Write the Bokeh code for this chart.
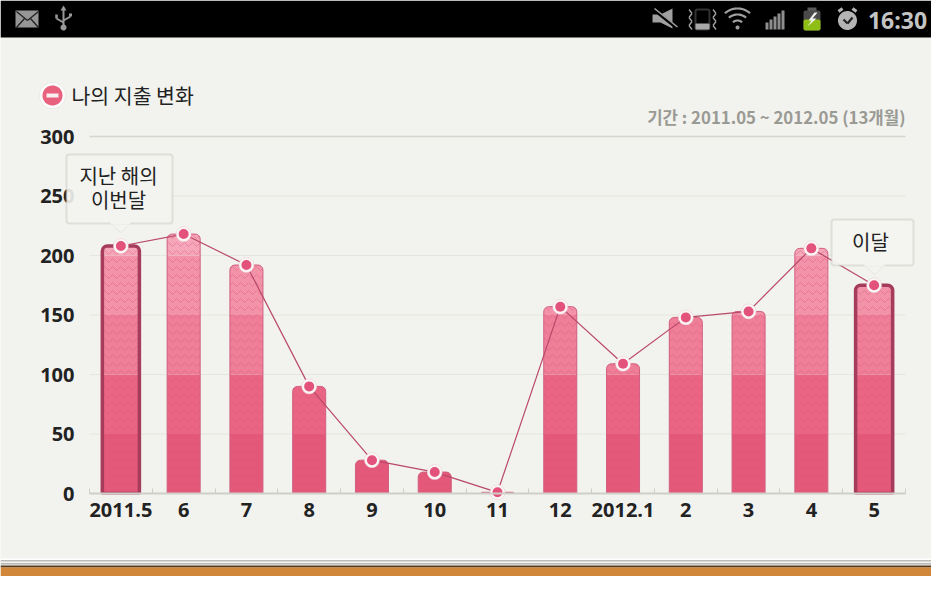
import numpy as np
from bokeh.plotting import figure
from bokeh.models import (Range1d, LinearAxis, FixedTicker, BoxAnnotation, PolyAnnotation,
                          Label, ColumnDataSource)
from bokeh.embed import file_html
from bokeh.resources import INLINE

# ---- data ----
months = ["2011.5", "6", "7", "8", "9", "10", "11", "12", "2012.1", "2", "3", "4", "5"]
spending = [208, 218, 192, 90, 28, 18, 1, 157, 109, 148, 153, 206, 175]
highlighted = [0, 12]
y_ticks = [0, 50, 100, 150, 200, 250, 300]
title_text = "나의 지출 변화"
period_text = "기간 : 2011.05 ~ 2012.05 (13개월)"
clock_text = "16:30"
band_colors = ["#e4587a", "#ea6583", "#ef7f98", "#f293a9", "#f5a6b8"]

KR = "Noto Sans CJK KR"
PAPER = "#f2f2ee"
W, H = 931, 576
PX_X = (905 - 89) / 13.0   # pixels per month
PX_Y = (493 - 136) / 300.0 # pixels per unit

p = figure(width=W, height=H, output_backend="svg", toolbar_location=None,
           x_range=Range1d(-89 / PX_X, (W - 89) / PX_X),
           y_range=Range1d(-(H - 493) / PX_Y, 493 / PX_Y),
           x_axis_type=None, y_axis_type=None,
           min_border_left=0, min_border_right=0, min_border_top=0, min_border_bottom=0)
p.outline_line_color = None
p.background_fill_color = PAPER
p.border_fill_color = PAPER


def box(x0, y0, x1, y1, color, alpha=1.0, line=None, lw=1, radius=0):
    p.add_layout(BoxAnnotation(left=x0, right=x1, top=y0, bottom=y1,
                               left_units="canvas", right_units="canvas", top_units="canvas",
                               bottom_units="canvas", fill_color=color, fill_alpha=alpha,
                               line_color=line, line_width=lw, border_radius=radius,
                               level="annotation", editable=False))


def poly(xs, ys, color, alpha=1.0, line=None, lw=1):
    p.add_layout(PolyAnnotation(xs=list(xs), ys=list(ys),
                                xs_units="canvas", ys_units="canvas",
                                fill_color=color, fill_alpha=alpha,
                                line_color=line, line_width=lw, level="annotation"))


def seg(x0, y0, x1, y1, color, w=2.0):
    dx, dy = x1 - x0, y1 - y0
    n = max((dx * dx + dy * dy) ** 0.5, 1e-6)
    ox, oy = -dy / n * w / 2, dx / n * w / 2
    poly([x0 + ox, x1 + ox, x1 - ox, x0 - ox], [y0 + oy, y1 + oy, y1 - oy, y0 - oy], color)


def circle(cx, cy, r, color, line=None, lw=1, alpha=1.0):
    t = np.linspace(0, 2 * np.pi, 40)[:-1]
    poly(cx + r * np.cos(t), cy + r * np.sin(t), color, alpha, line, lw)


def arc(cx, cy, r, w, color, half=0.72):
    t = np.linspace(-np.pi / 2 - half, -np.pi / 2 + half, 16)
    xs = list(cx + (r + w / 2) * np.cos(t)) + list(cx + (r - w / 2) * np.cos(t[::-1]))
    ys = list(cy + (r + w / 2) * np.sin(t)) + list(cy + (r - w / 2) * np.sin(t[::-1]))
    poly(xs, ys, color)


def text(x, y, s, size, color="#222222", align="left", bold=False, font=KR):
    p.add_layout(Label(x=x, y=y, x_units="canvas", y_units="canvas", text=s,
                       text_font=font, text_font_size=f"{size}px", text_color=color,
                       text_align=align, text_baseline="middle",
                       text_font_style="bold" if bold else "normal"))


# ---- axes and grid ----
centers = [i + 0.5 for i in range(len(months))]
n_cat = len(months)
p.segment(x0=[0] * 6, x1=[n_cat] * 6, y0=y_ticks[:-1], y1=y_ticks[:-1],
          line_color="#e6e6e0", line_width=1, level="underlay")
p.segment(x0=[0], x1=[n_cat], y0=y_ticks[-1:], y1=y_ticks[-1:],
          line_color="#d6d6d0", line_width=1.5, level="underlay")
yax = LinearAxis(ticker=FixedTicker(ticks=y_ticks), fixed_location=0, bounds=(0, 300),
                 axis_line_color=None, major_tick_line_color=None, minor_tick_line_color=None,
                 major_label_standoff=9, major_label_text_font="Open Sans",
                 major_label_text_font_style="bold", major_label_text_font_size="20px",
                 major_label_text_color="#222222")
p.add_layout(yax, "left")
xax = LinearAxis(ticker=FixedTicker(ticks=centers, minor_ticks=list(range(n_cat + 1))),
                 fixed_location=0, bounds=(0, n_cat), axis_line_color="#cfcfc9", axis_line_width=2,
                 major_tick_line_color=None, minor_tick_line_color="#cfcfc9",
                 minor_tick_in=5, minor_tick_out=0, major_tick_in=0, major_tick_out=0,
                 major_label_standoff=9, major_label_text_font="Open Sans",
                 major_label_text_font_style="bold", major_label_text_font_size="20px",
                 major_label_text_color="#222222",
                 major_label_overrides={c: m for c, m in zip(centers, months)})
p.add_layout(xax, "below")

# ---- bars, one band at a time ----
vals = np.array(spending, dtype=float)
for k, color in enumerate(band_colors):
    lo = 50 * k
    hi = 50 * (k + 1) if k < len(band_colors) - 1 else 1000
    full = [i for i in range(len(vals)) if vals[i] > hi]
    top = [i for i in range(len(vals)) if lo < vals[i] <= hi]
    common = dict(fill_color=color, line_color=None, hatch_pattern="horizontal_wave",
                  hatch_color="#d94f72", hatch_alpha=0.4, hatch_scale=8, hatch_weight=1)
    for sel, radius in ((full, 0), (top, (5, 5, 0, 0))):
        if not sel:
            continue
        xs = [centers[i] for i in sel]
        ws = [0.637 if i in highlighted else 0.526 for i in sel]
        p.vbar(x=xs, width=ws, bottom=lo, top=[min(vals[i], hi) for i in sel],
               border_radius=radius, **common)

rest = [i for i in range(len(vals)) if i not in highlighted]
p.vbar(x=[centers[i] for i in rest], width=0.526, bottom=0, top=[vals[i] for i in rest],
       fill_color=None, line_color="#d0607f", line_width=1, border_radius=(5, 5, 0, 0))
p.vbar(x=[centers[i] for i in highlighted], width=0.59, bottom=0,
       top=[vals[i] for i in highlighted],
       fill_color=None, line_color="#a63c5b", line_width=3.5, border_radius=(5, 5, 0, 0))
# the outline's foot stops at the axis
p.vbar(x=[centers[i] for i in highlighted], width=0.66, bottom=-3, top=-0.8,
       fill_color=PAPER, line_color=None)

# ---- line and points ----
src = ColumnDataSource(dict(x=centers, y=spending))
p.line("x", "y", source=src, line_color="#b9496a", line_width=1.2)
p.scatter("x", "y", source=src, size=15, marker="circle", fill_color="#fbf6f6",
          line_color="#e9c9d0", line_width=0.5)
p.scatter("x", "y", source=src, size=10, marker="circle", fill_color="#e2527a", line_color=None)

# ---- status bar ----
box(0, 0, 931, 37, "#000000")
box(15, 10, 38, 27, "#969696")
seg(16, 11, 27, 20, "#222222", 1.3); seg(38, 11, 27, 20, "#222222", 1.3)
seg(16, 27, 24, 18, "#222222", 1.3); seg(38, 27, 30, 18, "#222222", 1.3)
seg(63, 7, 63, 26, "#999999", 2)
circle(63, 27, 3, "#999999")
seg(56, 14, 56, 18, "#999999", 2.5); seg(56, 18, 63, 22, "#999999", 2)
seg(70, 13, 70, 16, "#999999", 3); seg(70, 16, 63, 20, "#999999", 2)
poly([60, 66, 63], [10, 10, 5], "#999999")
poly([652, 660, 672, 672, 660, 652], [14, 14, 8, 28, 22, 22], "#a0a0a0")
seg(652, 8, 677, 28, "#000000", 3.5); seg(654, 8, 677, 26.5, "#a0a0a0", 1.6)
box(695, 9, 709, 29, "#000000", line="#a8a8a8", lw=2, radius=2)
box(695, 23, 709, 29, "#a8a8a8", radius=1)
for zx in (690, 714):
    zy = [9, 13, 17, 21, 25, 29]
    for j in range(5):
        seg(zx + (1.5 if j % 2 else -1.5), zy[j], zx + (-1.5 if j % 2 else 1.5), zy[j + 1], "#a8a8a8", 1.3)
circle(737, 27, 2, "#a0a0a0")
for r in (7, 13, 19):
    arc(737, 27, r, 2.2, "#a0a0a0")
for j, bx in enumerate(range(765, 785, 4)):
    box(bx, 22 - 3 * j, bx + 3, 29, "#8e8e8e")
box(807, 7, 816, 11, "#5a5a5a")
box(803, 10, 820, 30, "#4a4a4a", radius=2)
box(803, 19, 820, 30, "#8fbf16", radius=2)
poly([814, 808, 811, 807, 816, 812, 817], [12, 20, 20, 26, 18, 18, 12], "#f2f2f2")
circle(847, 20, 9.5, "#b4b4b4")
seg(843, 19, 847, 23, "#222222", 2.2); seg(847, 23, 852, 17, "#222222", 2.2)
seg(838, 11, 842, 8, "#b4b4b4", 3); seg(852, 8, 856, 11, "#b4b4b4", 3)
text(897, 19, clock_text, 23, "#c4c4c4", "center", True, "Open Sans")

# ---- paper stack and wood: drawn a little higher so that they stay in the figure ----
box(0, 558, 931, 560, "#ffffff")
box(0, 560, 931, 561, "#7f7f7f")
box(0, 561, 931, 563, "#f6f6f6")
box(0, 563, 931, 564, "#7a7a7a")
box(0, 564, 931, 565, "#eeeeee")
box(0, 565, 931, 567, "#5a3a1a")
box(0, 567, 931, 576, "#d0873a")

# ---- heading ----
circle(52, 95, 13, "#fbfbfb", line="#d8d0d0", lw=1)
circle(52, 95, 10, "#e8617f")
box(46, 93, 58, 97, "#f8f0f0")
text(71, 94, title_text, 20.5)
text(905, 116.5, period_text, 16.8, "#9a9a94", "right", True)

# ---- call-outs ----
poly([109, 120, 132], [222, 232, 222], "#f3f3ef", line="#c8c8c2", lw=1)
box(66, 154, 172, 223, "#f3f3ef", alpha=0.9, line="#b2b2aa", lw=2, radius=3)
box(110, 219, 130, 224, "#f3f3ef")
text(118, 175, "지난 해의", 20, "#222222", "center")
text(118, 199, "이번달", 20, "#222222", "center")

poly([863, 874, 885], [264, 274, 264], "#f3f3ef", line="#c8c8c2", lw=1)
box(831, 219, 913, 265, "#f3f3ef", alpha=0.95, line="#b2b2aa", lw=2, radius=3)
box(864, 261, 884, 266, "#f3f3ef")
text(870, 241, "이달", 20, "#222222", "center")

open("out.html", "w").write(file_html(p, INLINE))
